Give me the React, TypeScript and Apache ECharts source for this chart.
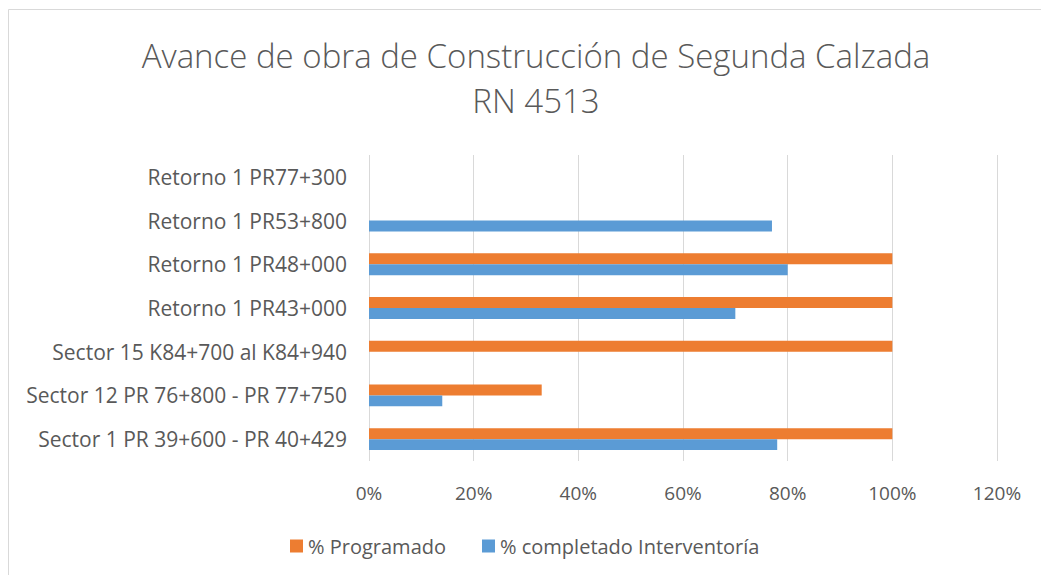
import React, { useEffect, useRef } from "react";
import * as echarts from "echarts";

const categories = [
  "Sector 1 PR 39+600 - PR 40+429",
  "Sector 12 PR 76+800 - PR 77+750",
  "Sector 15 K84+700 al K84+940",
  "Retorno 1 PR43+000",
  "Retorno 1 PR48+000",
  "Retorno 1 PR53+800",
  "Retorno 1 PR77+300",
];
const programado = [1.0, 0.33, 1.0, 1.0, 1.0, 0, 0];
const completado = [0.78, 0.14, 0, 0.7, 0.8, 0.77, 0];
const xTicks = [0, 0.2, 0.4, 0.6, 0.8, 1.0, 1.2];

const FONT = "'Open Sans', sans-serif";
const GREY = "#595959";

export default function App() {
  const ref = useRef<HTMLDivElement>(null);
  useEffect(() => {
    document.body.style.margin = "0";
    const chart = echarts.init(ref.current!, null, { renderer: "svg" });
    chart.setOption({
      animation: false,
      backgroundColor: "#ffffff",
      title: {
        text: "Avance de obra de Construcción de Segunda Calzada\nRN 4513",
        left: 531,
        top: 28,
        textAlign: "center",
        textStyle: {
          fontFamily: FONT,
          fontSize: 33,
          fontWeight: 300,
          color: GREY,
          lineHeight: 45,
        },
      },
      graphic: [
        {
          type: "rect",
          shape: { x: 8.5, y: 9.5, width: 1100, height: 700 },
          style: { fill: "none", stroke: "#d9d9d9", lineWidth: 1 },
          silent: true,
        },
      ],
      legend: {
        bottom: 14,
        left: 285,
        itemWidth: 13,
        itemHeight: 13,
        itemGap: 36,
        icon: "rect",
        data: ["% Programado", "% completado Interventoría"],
        textStyle: { fontFamily: FONT, fontSize: 20, color: GREY },
      },
      grid: { left: 369, right: 44, top: 155, bottom: 114 },
      xAxis: {
        type: "value",
        min: 0,
        max: 1.2,
        interval: 0.2,
        axisLine: { show: false },
        axisTick: { show: false },
        splitLine: { lineStyle: { color: "#d9d9d9", width: 1 } },
        axisLabel: {
          margin: 22,
          fontFamily: FONT,
          fontSize: 19,
          color: GREY,
          formatter: (v: number) => {
            const t = xTicks.find((x) => Math.abs(x - v) < 1e-6);
            return Math.round((t ?? v) * 100) + "%";
          },
        },
      },
      yAxis: {
        type: "category",
        data: categories,
        axisLine: { show: false },
        axisTick: { show: false },
        splitLine: { show: false },
        axisLabel: { margin: 22, fontFamily: FONT, fontSize: 21, color: GREY },
      },
      series: [
        {
          name: "% Programado",
          type: "bar",
          data: programado,
          itemStyle: { color: "#ed7d31" },
          barGap: "0%",
          barCategoryGap: "50%",
        },
        {
          name: "% completado Interventoría",
          type: "bar",
          data: completado,
          itemStyle: { color: "#5b9bd5" },
          barGap: "0%",
          barCategoryGap: "50%",
        },
      ],
    });
    return () => chart.dispose();
  }, []);
  return <div ref={ref} style={{ width: 1041, height: 575 }} />;
}
